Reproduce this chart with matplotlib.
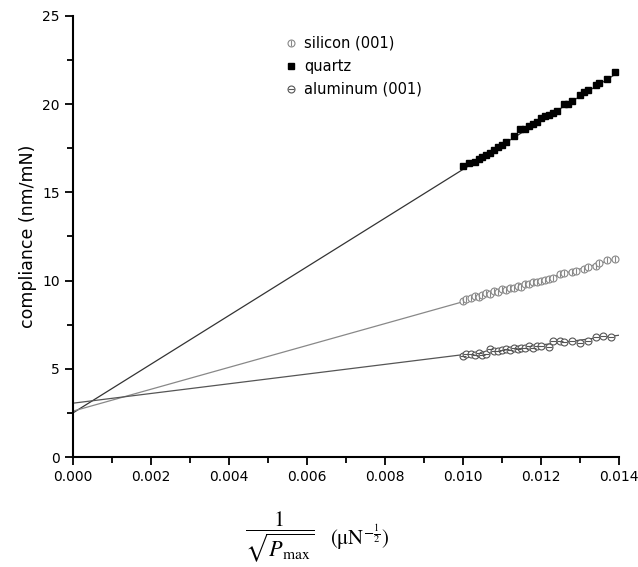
"""Compliance vs 1/sqrt(Pmax) for three materials."""

import matplotlib

matplotlib.use("Agg")
import numpy as np
from matplotlib import pyplot as plt
from matplotlib.ticker import MultipleLocator

quartz_x = [0.0100, 0.01015, 0.0103, 0.0104, 0.0105, 0.0106, 0.0107, 0.0108,
            0.0109, 0.0110, 0.0111, 0.0113, 0.01145, 0.0116, 0.0117, 0.0118,
            0.0119, 0.0120, 0.0121, 0.0122, 0.0123, 0.0124, 0.0126, 0.0127,
            0.0128, 0.0130, 0.0131, 0.0132, 0.0134, 0.0135, 0.0137, 0.0139]
quartz_y = [16.5, 16.65, 16.7, 16.9, 17.0, 17.1, 17.25, 17.4,
            17.55, 17.7, 17.85, 18.2, 18.6, 18.6, 18.75, 18.9,
            19.0, 19.2, 19.3, 19.4, 19.5, 19.6, 20.0, 20.0,
            20.2, 20.5, 20.7, 20.8, 21.1, 21.2, 21.4, 21.8]

silicon_x = [0.0100, 0.01008, 0.0102, 0.0103, 0.0104, 0.0105, 0.0106, 0.0107,
             0.0108, 0.0109, 0.0110, 0.0111, 0.0112, 0.0113, 0.0114, 0.0115,
             0.0116, 0.0117, 0.0118, 0.0119, 0.0120, 0.0121, 0.0122, 0.0123,
             0.0125, 0.0126, 0.0128, 0.0129, 0.0131, 0.0132, 0.0134, 0.0135,
             0.0137, 0.0139]
silicon_y = [8.85, 8.95, 9.0, 9.1, 9.05, 9.2, 9.3, 9.25,
             9.4, 9.35, 9.5, 9.45, 9.6, 9.6, 9.7, 9.65,
             9.8, 9.8, 9.9, 9.9, 10.0, 10.05, 10.1, 10.15,
             10.35, 10.4, 10.5, 10.55, 10.65, 10.75, 10.85, 11.0,
             11.15, 11.2]

aluminum_x = [0.0100, 0.01008, 0.0102, 0.0103, 0.0104, 0.0105, 0.0106, 0.0107,
              0.0108, 0.0109, 0.0110, 0.0111, 0.0112, 0.0113, 0.0114, 0.0115,
              0.0116, 0.0117, 0.0118, 0.0119, 0.0120, 0.0122, 0.0123, 0.0125,
              0.0126, 0.0128, 0.0130, 0.0132, 0.0134, 0.0136, 0.0138]
aluminum_y = [5.7, 5.85, 5.85, 5.8, 5.9, 5.8, 5.85, 6.1,
              6.0, 6.0, 6.05, 6.1, 6.05, 6.15, 6.1, 6.2,
              6.2, 6.3, 6.2, 6.3, 6.3, 6.25, 6.55, 6.55,
              6.5, 6.55, 6.45, 6.6, 6.8, 6.85, 6.8]

# linear fits (intercept, slope) extended to the origin
quartz_fit = (2.5, 1380.0)
silicon_fit = (2.6, 620.0)
aluminum_fit = (3.05, 275.0)

fig = plt.figure(figsize=(6.38, 5.67), dpi=100)
ax = fig.add_axes([0.1144, 0.194, 0.8558, 0.778])

xfit = np.array([0.0, 0.014])
for (b, m), col in [(quartz_fit, "#333333"), (silicon_fit, "#888888"),
                    (aluminum_fit, "#555555")]:
    ax.plot(xfit, b + m * xfit, color=col, lw=0.9, zorder=1)

ax.plot(quartz_x, quartz_y, "s", ms=4.5, color="black", zorder=3)
si_o, = ax.plot(silicon_x, silicon_y, "o", ms=5, mfc="white", mec="#888888",
                mew=0.8, zorder=3)
si_l, = ax.plot(silicon_x, silicon_y, "|", ms=5, color="#888888", mew=0.8,
                zorder=3)
al_o, = ax.plot(aluminum_x, aluminum_y, "o", ms=5, mfc="white", mec="#555555",
                mew=0.8, zorder=3)
al_l, = ax.plot(aluminum_x, aluminum_y, "_", ms=5, color="#555555", mew=0.8,
                zorder=3)
q_h, = ax.plot([], [], "s", ms=4.5, color="black")

ax.legend([(si_o, si_l), q_h, (al_o, al_l)],
          ["silicon (001)", "quartz", "aluminum (001)"],
          loc="upper left", bbox_to_anchor=(0.365, 0.985), frameon=False,
          fontsize=10.5, handlelength=0.8, handletextpad=0.5, labelspacing=0.55)

ax.set_xlim(0, 0.014)
ax.set_ylim(0, 25)
ax.xaxis.set_major_locator(MultipleLocator(0.002))
ax.xaxis.set_minor_locator(MultipleLocator(0.001))
ax.yaxis.set_major_locator(MultipleLocator(5))
ax.yaxis.set_minor_locator(MultipleLocator(2.5))
ax.xaxis.set_major_formatter(plt.FuncFormatter(lambda v, _: f"{v:.3f}"))
for side in ("top", "right"):
    ax.spines[side].set_visible(False)
for side in ("left", "bottom"):
    ax.spines[side].set_linewidth(1.5)
ax.tick_params(which="major", direction="out", length=6, width=1.3,
               labelsize=10)
ax.tick_params(which="minor", direction="out", length=4, width=1.3)

ax.set_ylabel("compliance (nm/mN)", fontsize=12.5, labelpad=4)
fig.text(0.438, 0.053, r"$\dfrac{1}{\sqrt{P_{\max}}}$",
         ha="center", va="center", fontsize=16, math_fontfamily="stix")
fig.text(0.517, 0.052, r"$(\mathrm{\mu N}^{-\frac{1}{2}})$",
         ha="left", va="center", fontsize=15, math_fontfamily="stix")

fig.savefig("out.png", dpi=100)
